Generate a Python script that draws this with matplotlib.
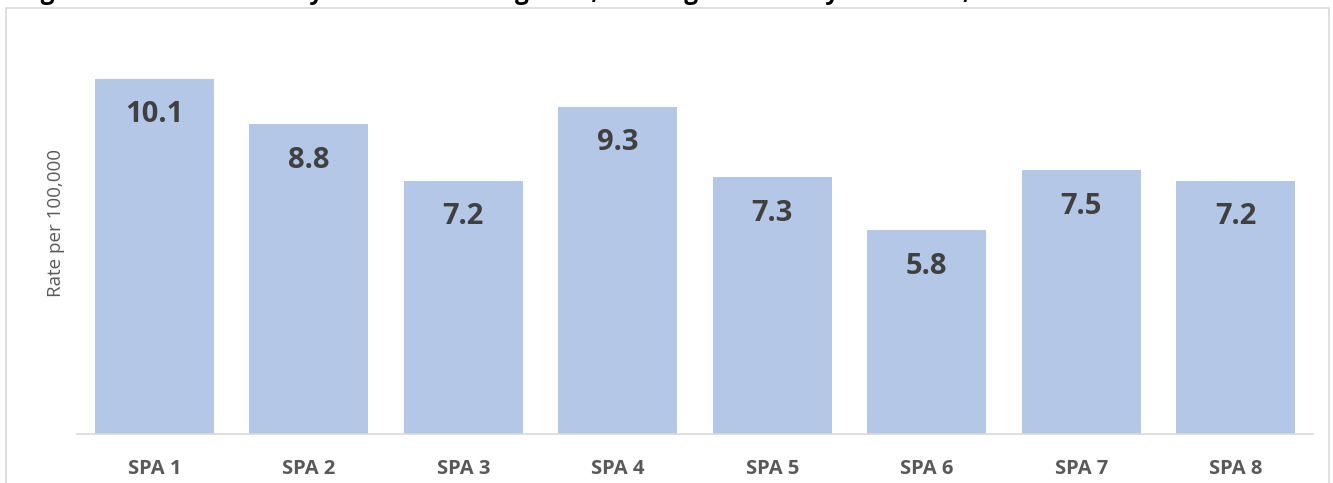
import matplotlib.pyplot as plt
from matplotlib.patches import Rectangle

# --- DATA
CATEGORIES = ["SPA 1", "SPA 2", "SPA 3", "SPA 4", "SPA 5", "SPA 6", "SPA 7", "SPA 8"]
RATES = [10.1, 8.8, 7.2, 9.3, 7.3, 5.8, 7.5, 7.2]
TITLE = "Figure 4. Suicide Rates by Service Planning Area, Los Angeles County Residents, 2017"
YLABEL = "Rate per 100,000"

COLORS = {
    "bar": "#B4C7E7",
    "value": "#404040",
    "tick": "#595959",
    "frame": "#D9D9D9",
}

W, H = 1333, 483


def main():
    plt.rcParams["font.family"] = ["Open Sans", "DejaVu Sans"]

    fig = plt.figure(figsize=(W / 100, H / 100), dpi=100)
    # plot area in pixels: x 77..1313, y 40..434 (from top)
    ax = fig.add_axes([77 / W, (H - 434) / H, (1313 - 77) / W, (434 - 40) / H])

    xs = range(len(CATEGORIES))
    bars = ax.bar(xs, RATES, width=0.77, color=COLORS["bar"], zorder=2)

    for bar, val in zip(bars, RATES):
        ax.annotate(
            f"{val:.1f}",
            (bar.get_x() + bar.get_width() / 2, bar.get_height()),
            xytext=(0, -26),
            textcoords="offset points",
            ha="center",
            va="center",
            fontsize=21,
            fontweight="bold",
            color=COLORS["value"],
        )

    ax.set_xlim(-0.5, len(CATEGORIES) - 0.5)
    ax.set_ylim(0, 11.2)
    ax.set_xticks(list(xs))
    ax.set_xticklabels(CATEGORIES, fontsize=14.5, fontweight="bold", color=COLORS["tick"])
    ax.tick_params(axis="x", length=0, pad=18)
    ax.set_yticks([])

    for side in ["top", "right", "left"]:
        ax.spines[side].set_visible(False)
    ax.spines["bottom"].set_color(COLORS["frame"])
    ax.spines["bottom"].set_linewidth(1.2)

    ax.set_ylabel(YLABEL, fontsize=13.5, color=COLORS["tick"])
    ax.yaxis.set_label_coords(-0.0097, 0.535)

    # chart frame (bottom edge falls outside the image)
    frame = Rectangle(
        (5.5 / W, -0.05),
        (1329 - 5.5) / W,
        (H - 8) / H + 0.05,
        transform=fig.transFigure,
        fill=False,
        edgecolor=COLORS["frame"],
        linewidth=1.2,
    )
    fig.patches.append(frame)

    # title sits above the image, only its descenders show
    fig.text(20 / W, 1 + 1 / H, TITLE, fontsize=17.5, fontweight="bold", color="black", va="baseline")

    fig.savefig("out.png", dpi=100)


if __name__ == "__main__":
    main()
